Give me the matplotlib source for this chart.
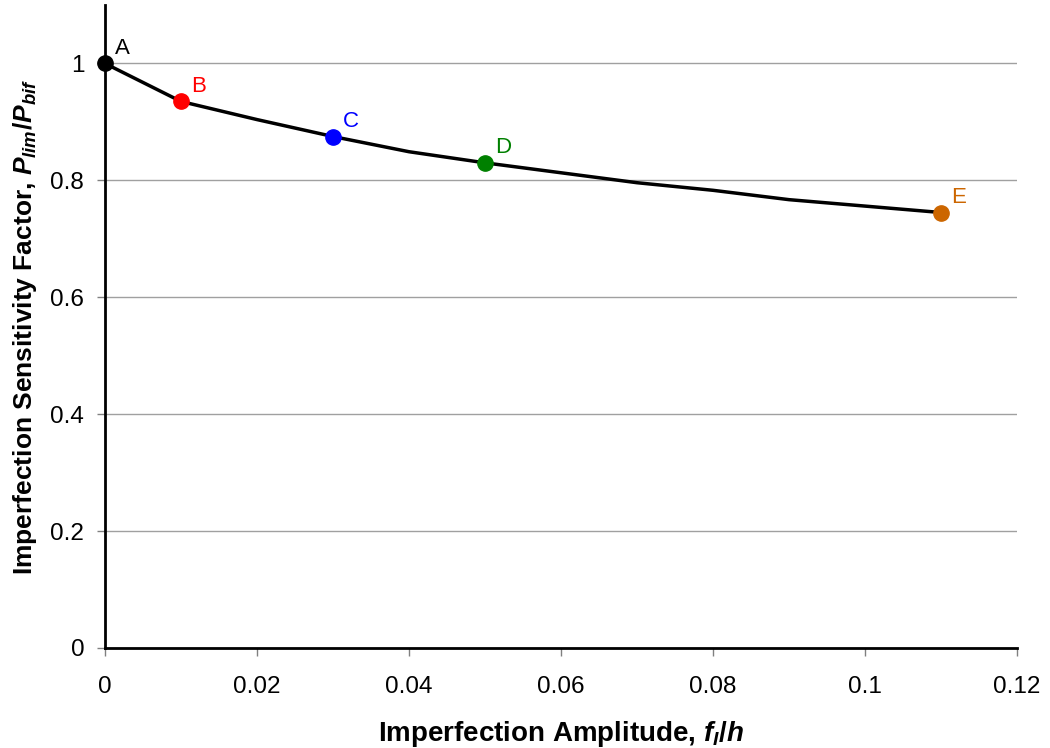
import matplotlib
matplotlib.use("Agg")
import matplotlib.pyplot as plt

plt.rcParams['font.family'] = ['Liberation Sans', 'DejaVu Sans']
plt.rcParams['mathtext.fontset'] = 'custom'
plt.rcParams['mathtext.it'] = 'Liberation Sans:italic:bold'
plt.rcParams['mathtext.rm'] = 'Liberation Sans:bold'
plt.rcParams['mathtext.bf'] = 'Liberation Sans:bold'

# curve data
x_curve = [0.0, 0.01, 0.02, 0.03, 0.04, 0.05, 0.06, 0.07, 0.08, 0.09, 0.10, 0.11]
y_curve = [1.0, 0.935, 0.904, 0.875, 0.849, 0.830, 0.813, 0.796, 0.783, 0.767, 0.756, 0.745]

# labelled points
pt_labels = ['A', 'B', 'C', 'D', 'E']
pt_x = [0.0, 0.01, 0.03, 0.05, 0.11]
pt_y = [1.0, 0.935, 0.875, 0.830, 0.745]
pt_colors = ['#000000', '#FF0000', '#0000FF', '#008000', '#CC6600']

x_ticks = [0, 0.02, 0.04, 0.06, 0.08, 0.1, 0.12]
x_ticklabels = ['0', '0.02', '0.04', '0.06', '0.08', '0.1', '0.12']
y_ticks = [0, 0.2, 0.4, 0.6, 0.8, 1.0]
y_ticklabels = ['0', '0.2', '0.4', '0.6', '0.8', '1']

fig = plt.figure(figsize=(10.5, 7.48), dpi=100)
ax = fig.add_axes([0.1, 0.1337, 0.8686, 0.8596])

ax.plot(x_curve, y_curve, color='black', lw=2.5, zorder=3, clip_on=False)
for lab, xx, yy, c in zip(pt_labels, pt_x, pt_y, pt_colors):
    ax.plot([xx], [yy], 'o', color=c, ms=11, zorder=4, clip_on=False)
    ax.annotate(lab, (xx, yy), xytext=(7, 7), textcoords='offset points',
                color=c, fontsize=16, ha='left', va='baseline')

ax.set_xlim(0, 0.12)
ax.set_ylim(0, 1.1)
ax.set_xticks(x_ticks)
ax.set_xticklabels(x_ticklabels)
ax.set_yticks(y_ticks)
ax.set_yticklabels(y_ticklabels)
ax.tick_params(axis='both', labelsize=17.5, color='#808080', length=6, width=1, direction='out')
ax.tick_params(axis='x', pad=14)
ax.tick_params(axis='y', pad=9)

ax.grid(axis='y', color='#A0A0A0', lw=1)
ax.set_axisbelow(True)
for s in ['top', 'right']:
    ax.spines[s].set_visible(False)
for s in ['left', 'bottom']:
    ax.spines[s].set_linewidth(2)
    ax.spines[s].set_color('black')

ax.set_xlabel('Imperfection Amplitude, $f_I/h$', fontsize=20, fontweight='bold', labelpad=15)
ax.set_ylabel('Imperfection Sensitivity Factor, $P_{lim}/P_{bif}$', fontsize=19, fontweight='bold', labelpad=8)

fig.savefig('out.png', dpi=100)
